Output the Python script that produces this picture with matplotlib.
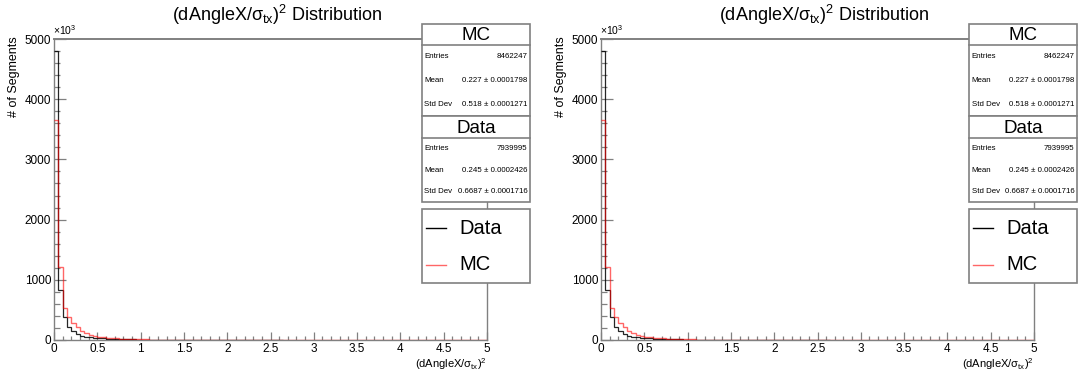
import matplotlib
matplotlib.use("Agg")
import matplotlib.pyplot as plt
from matplotlib import font_manager
from matplotlib.patches import Rectangle
from matplotlib.lines import Line2D
from matplotlib.ticker import FixedLocator, MultipleLocator, FixedFormatter
import numpy as np


def pick_font(names):
    for n in names:
        try:
            font_manager.findfont(n, fallback_to_default=False)
            return n
        except Exception:
            pass
    return "DejaVu Sans"


FONT = pick_font(["Liberation Sans Narrow", "Liberation Sans", "Arial"])
plt.rcParams["font.family"] = [FONT, "DejaVu Sans"]
plt.rcParams["mathtext.fontset"] = "custom"
plt.rcParams["mathtext.rm"] = FONT
plt.rcParams["mathtext.it"] = FONT
plt.rcParams["mathtext.bf"] = FONT

# ---------------------------------------------------------------- data
x_min, x_max, n_bins = 0.0, 5.0, 100

# bin contents in units of 10^3 segments
data_counts = [
    4800, 825, 378, 215, 145, 100, 74, 56, 44, 36,
    30, 25, 21, 18, 15.5, 13.5, 11.8, 10.3, 9.0, 8.0,
    7.1, 6.3, 5.6, 5.0, 4.5, 4.0, 3.6, 3.3, 3.0, 2.7,
    2.5, 2.3, 2.1, 1.9, 1.7, 1.6, 1.5, 1.4, 1.3, 1.2,
    1.1, 1.0, 0.95, 0.9, 0.85, 0.8, 0.75, 0.7, 0.66, 0.62,
    0.58, 0.55, 0.52, 0, 0, 0, 0, 0, 0, 0,
    0, 0, 0, 0, 0, 0, 0, 0, 0, 0,
    0, 0, 0, 0, 0, 0, 0, 0, 0, 0,
    0, 0, 0, 0, 0, 0, 0, 0, 0, 0,
    0, 0, 0, 0, 0, 0, 0, 0, 0, 0,
]
mc_counts = [
    3650, 1205, 527, 375, 278, 211, 155, 115, 88, 68,
    54, 44, 36, 30, 25, 21, 18, 15.5, 13.3, 11.5,
    10, 8.8, 7.7, 6.8, 6.0, 5.3, 4.7, 4.2, 3.8, 3.4,
    3.1, 2.8, 2.5, 2.3, 2.1, 1.9, 1.75, 1.6, 1.45, 1.35,
    1.25, 1.15, 1.05, 0.98, 0.9, 0.84, 0.78, 0.72, 0.67, 0.62,
    0.58, 0.54, 0.5, 0.47, 0.44, 0.41, 0.38, 0.36, 0.34, 0.32,
    0.3, 0.28, 0.26, 0.25, 0.23, 0.22, 0.21, 0.2, 0.19, 0.18,
    0.17, 0.16, 0.15, 0.14, 0.135, 0.13, 0.12, 0.115, 0.11, 0.105,
    0.1, 0.095, 0.09, 0.085, 0.08, 0.078, 0.075, 0.072, 0.07, 0.067,
    0.065, 0.062, 0.06, 0.058, 0.056, 0.054, 0.052, 0.05, 0.048, 0.046,
]

x_ticks = [0, 0.5, 1, 1.5, 2, 2.5, 3, 3.5, 4, 4.5, 5]
x_tick_labels = ["0", "0.5", "1", "1.5", "2", "2.5", "3", "3.5", "4", "4.5", "5"]
y_ticks = [0, 1000, 2000, 3000, 4000, 5000]
y_tick_labels = ["0", "1000", "2000", "3000", "4000", "5000"]

stat_names = ["Entries", "Mean", "Std Dev"]
mc_stats = ["8462247", "0.227 \u00b1 0.0001798", "0.518 \u00b1 0.0001271"]
data_stats = ["7939995", "0.245 \u00b1 0.0002426", "0.6687 \u00b1 0.0001716"]

title_text = r"(dAngleX/σ$_{\mathrm{tx}}$)$^{2}$ Distribution"
xlabel_text = r"(dAngleX/σ$_{\mathrm{tx}}$)$^{2}$"
ylabel_text = "# of Segments"

DATA_COLOR = "black"
MC_COLOR = "#ff0000"
FRAME_COLOR = "#808080"

# ---------------------------------------------------------------- figure
W, H = 1081, 374
fig = plt.figure(figsize=(W / 100, H / 100), dpi=100)
fig.patch.set_facecolor("white")

overlay = fig.add_axes([0, 0, 1, 1], zorder=10)
overlay.set_xlim(0, W)
overlay.set_ylim(H, 0)
overlay.axis("off")
overlay.patch.set_alpha(0)

edges = np.linspace(x_min, x_max, n_bins + 1)
data_arr = np.asarray(data_counts, dtype=float)
mc_arr = np.asarray(mc_counts, dtype=float)
last_data = int(np.nonzero(data_arr)[0].max()) + 1


def draw_panel(ox):
    fl, fr, ft, fb = 54 + ox, 487 + ox, 39, 340
    ax = fig.add_axes([fl / W, (H - fb) / H, (fr - fl) / W, (fb - ft) / H])
    ax.stairs(data_arr[:last_data], edges[:last_data + 1], color=DATA_COLOR,
              lw=0.9, zorder=3, baseline=None, alpha=0.85)
    ax.stairs(mc_arr, edges, color=MC_COLOR, lw=1.0, alpha=0.6, zorder=4,
              baseline=None)
    ax.set_xlim(x_min, x_max)
    ax.set_ylim(0, 5000)

    ax.xaxis.set_major_locator(FixedLocator(x_ticks))
    ax.xaxis.set_major_formatter(FixedFormatter(x_tick_labels))
    ax.xaxis.set_minor_locator(MultipleLocator(0.1))
    ax.yaxis.set_major_locator(FixedLocator(y_ticks))
    ax.yaxis.set_major_formatter(FixedFormatter(y_tick_labels))
    ax.yaxis.set_minor_locator(MultipleLocator(200))

    ax.tick_params(axis="both", which="both", direction="in", color=FRAME_COLOR,
                   labelcolor="black", labelsize=8.5, width=0.9)
    ax.tick_params(axis="y", which="major", length=8.6, pad=2)
    ax.tick_params(axis="y", which="minor", length=4.5)
    ax.tick_params(axis="x", which="major", length=5.5, pad=2)
    ax.tick_params(axis="x", which="minor", length=3.0)
    for side, sp in ax.spines.items():
        sp.set_color(FRAME_COLOR)
        sp.set_linewidth(1.0)
    ax.spines["top"].set_linewidth(1.4)

    # titles
    overlay.text(277 + ox, 15, title_text, ha="center", va="center", fontsize=13)
    overlay.text(fr, 364, xlabel_text, ha="right", va="center", fontsize=8)
    overlay.text(14 + ox, 36, ylabel_text, ha="center", va="top", rotation=90,
                 fontsize=9)
    overlay.text(fl - 1, 37, "\u00d710$^{3}$", ha="left", va="bottom", fontsize=7.5)

    # statistics boxes
    bl, br = 422 + ox, 530 + ox
    boxes = [
        ("MC", mc_stats, 24, 45, 116),
        ("Data", data_stats, 116, 138, 202),
    ]
    for name, vals, top, sep, bot in boxes:
        overlay.add_patch(Rectangle((bl, top), br - bl, bot - top, facecolor="white",
                                    edgecolor=FRAME_COLOR, lw=1.2))
        overlay.plot([bl, br], [sep, sep], color=FRAME_COLOR, lw=1.2)
        overlay.text((bl + br) / 2, (top + sep) / 2 + 1, name, ha="center",
                     va="center", fontsize=13.5)
        row_h = (bot - sep) / 3
        for i, (lab, val) in enumerate(zip(stat_names, vals)):
            yy = sep + row_h * (i + 0.5)
            overlay.text(bl + 2.5, yy, lab, ha="left", va="center", fontsize=5.7)
            overlay.text(br - 2.5, yy, val, ha="right", va="center", fontsize=5.7)

    # legend
    lt, lb = 209, 283
    overlay.add_patch(Rectangle((bl, lt), br - bl, lb - lt, facecolor="white",
                                edgecolor=FRAME_COLOR, lw=1.2))
    for label, color, alpha, yy in [("Data", DATA_COLOR, 1.0, 228),
                                    ("MC", MC_COLOR, 0.6, 265)]:
        overlay.add_line(Line2D([bl + 4, bl + 24], [yy, yy], color=color,
                                alpha=alpha, lw=1.0))
        overlay.text(bl + 37, yy, label, ha="left", va="center", fontsize=14.5)


draw_panel(0)
draw_panel(547)

fig.savefig("out.png", dpi=100, facecolor="white")
